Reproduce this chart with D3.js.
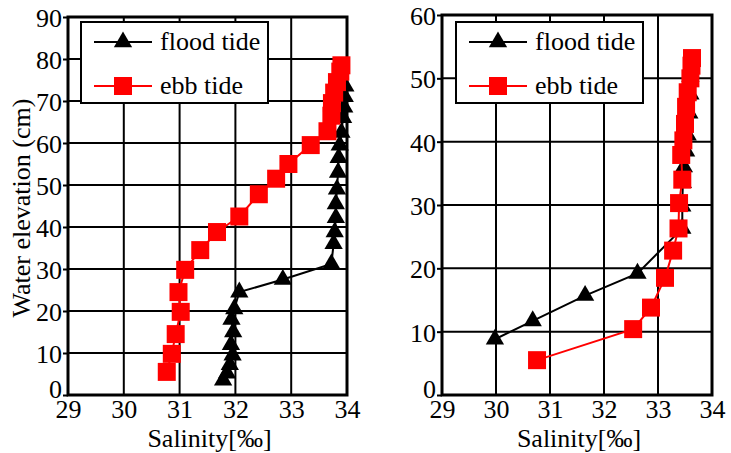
<!DOCTYPE html>
<html>
<head>
<meta charset="utf-8">
<script src="https://cdn.jsdelivr.net/npm/d3@7"></script>
<style>
	body { margin: 0; background: #fff; }
	svg { display: block; }
</style>
</head>
<body>
<svg id="chart" width="731" height="453"></svg>
<script>
const FONT = '"Liberation Serif", "Times New Roman", Times, serif'
const FS = 26

// salinity ticks shared by both panels
const salinityTicks = [29, 30, 31, 32, 33, 34]
const leftElevTicks = [0, 10, 20, 30, 40, 50, 60, 70, 80, 90]
const rightElevTicks = [0, 10, 20, 30, 40, 50, 60]
const seriesNames = ['flood tide', 'ebb tide']

// left panel: [salinity, elevation]
const leftFlood = [
	[31.78, 3.5], [31.85, 5.2], [31.9, 7.2], [31.95, 9.5], [31.92, 12], [31.96, 15],
	[31.93, 18], [31.98, 20.5], [32.07, 24.5], [32.85, 27.5], [33.72, 31.2],
	[33.76, 36], [33.78, 38.8], [33.8, 42.2], [33.8, 45.5], [33.82, 49], [33.84, 53],
	[33.85, 56.5], [33.87, 59.5], [33.9, 62.5], [33.93, 66], [33.95, 68.5],
	[33.96, 71], [33.97, 73.5]
]
const leftEbb = [
	[30.77, 5.5], [30.86, 9.8], [30.93, 14.5], [31.02, 19.8], [30.98, 24.5], [31.1, 29.8],
	[31.37, 34.5], [31.67, 38.8], [32.07, 42.5], [32.42, 47.8], [32.73, 51.5],
	[32.95, 55], [33.35, 59.5], [33.65, 62.8], [33.72, 66.5], [33.73, 69.5],
	[33.77, 72], [33.82, 74.5], [33.88, 77], [33.9, 78.5]
]

// right panel
const rightFlood = [
	[29.98, 8.8], [30.68, 11.7], [31.65, 15.7], [32.62, 19.2], [33.45, 26.3],
	[33.45, 29.8], [33.46, 33.5], [33.48, 36], [33.52, 38.5], [33.55, 41],
	[33.58, 44.5], [33.6, 47.5], [33.6, 50.3]
]
const rightEbb = [
	[30.76, 5.5], [32.54, 10.4], [32.87, 13.8], [33.13, 18.5], [33.28, 22.8],
	[33.38, 26.3], [33.39, 30.3], [33.45, 34], [33.43, 37.9], [33.47, 40.2],
	[33.5, 42.8], [33.52, 45.5], [33.55, 47.8], [33.6, 50], [33.62, 52], [33.63, 53.2]
]

const svg = d3.select('#chart')
	.attr('font-family', FONT)

function drawPanel(cfg) {
	const x = d3.scaleLinear().domain([29, 34]).range(cfg.xRange)
	const y = d3.scaleLinear().domain([0, cfg.yMax]).range(cfg.yRange)
	const g = svg.append('g').attr('font-family', FONT)

	// grid
	g.selectAll('.vgrid')
		.data(salinityTicks.slice(1, -1))
		.enter().append('line')
		.attr('x1', d => x(d)).attr('x2', d => x(d))
		.attr('y1', y(0)).attr('y2', y(cfg.yMax))
		.attr('stroke', '#000').attr('stroke-width', 2)
	g.selectAll('.hgrid')
		.data(cfg.yTicks.slice(1, -1))
		.enter().append('line')
		.attr('x1', x(29)).attr('x2', x(34))
		.attr('y1', d => y(d)).attr('y2', d => y(d))
		.attr('stroke', '#000').attr('stroke-width', 2)

	// axes
	const yAxis = g.append('g')
		.attr('transform', `translate(${x(29)},0)`)
		.call(d3.axisLeft(y).tickValues(cfg.yTicks).tickFormat(d3.format('d')).tickSize(5).tickPadding(1))
		.attr('font-family', FONT)
		.attr('font-size', FS)
	yAxis.select('.domain').remove()
	yAxis.selectAll('.tick line').attr('stroke-width', 2)
	yAxis.selectAll('.tick text')
		.attr('fill', '#000')
		.attr('dy', d => d === 0 ? '0.1em' : '0.36em')

	const xAxis = g.append('g')
		.attr('transform', `translate(0,${y(0)})`)
		.call(d3.axisBottom(x).tickValues(salinityTicks).tickFormat(d3.format('d')).tickSize(0).tickPadding(5))
		.attr('font-family', FONT)
		.attr('font-size', FS)
	xAxis.select('.domain').remove()
	xAxis.selectAll('.tick text').attr('fill', '#000')

	// frame
	g.append('rect')
		.attr('x', x(29)).attr('y', y(cfg.yMax))
		.attr('width', x(34) - x(29)).attr('height', y(0) - y(cfg.yMax))
		.attr('fill', 'none').attr('stroke', '#000').attr('stroke-width', 3)

	const line = d3.line().x(d => x(d[0])).y(d => y(d[1]))
	const tri = d3.symbol().type(d3.symbolTriangle).size(145)
	const sq = d3.symbol().type(d3.symbolSquare).size(324)

	g.append('path').datum(cfg.flood)
		.attr('d', line).attr('fill', 'none').attr('stroke', '#000').attr('stroke-width', 2)
	g.selectAll('.flood')
		.data(cfg.flood).enter().append('path')
		.attr('d', tri)
		.attr('transform', d => `translate(${x(d[0])},${y(d[1])})`)
		.attr('fill', '#000')

	g.append('path').datum(cfg.ebb)
		.attr('d', line).attr('fill', 'none').attr('stroke', '#ff0000').attr('stroke-width', 2)
	g.selectAll('.ebb')
		.data(cfg.ebb).enter().append('path')
		.attr('d', sq)
		.attr('transform', d => `translate(${x(d[0])},${y(d[1])})`)
		.attr('fill', '#ff0000')

	// legend
	const lg = g.append('g').attr('transform', `translate(${cfg.legend[0]},${cfg.legend[1]})`)
	lg.append('rect')
		.attr('width', 187).attr('height', 81)
		.attr('fill', '#fff').attr('stroke', '#000').attr('stroke-width', 2)
	seriesNames.forEach((name, i) => {
		const ly = 20 + i * 44
		lg.append('line')
			.attr('x1', 13).attr('x2', 71).attr('y1', ly).attr('y2', ly)
			.attr('stroke', i ? '#ff0000' : '#000').attr('stroke-width', 2)
		lg.append('path')
			.attr('d', i ? sq() : tri())
			.attr('transform', `translate(42,${ly})`)
			.attr('fill', i ? '#ff0000' : '#000')
		lg.append('text')
			.attr('x', 79).attr('y', ly + 8)
			.attr('font-size', FS)
			.text(name)
	})

	// x title
	g.append('text')
		.attr('x', (x(29) + x(34)) / 2 + 2).attr('y', 447)
		.attr('text-anchor', 'middle')
		.attr('font-size', FS)
		.text('Salinity[‰]')
}

drawPanel({
	xRange: [68, 347], yRange: [395, 17], yMax: 90, yTicks: leftElevTicks,
	flood: leftFlood, ebb: leftEbb, legend: [81, 22]
})
drawPanel({
	xRange: [442, 712], yRange: [395, 15], yMax: 60, yTicks: rightElevTicks,
	flood: rightFlood, ebb: rightEbb, legend: [456, 22]
})

svg.append('text')
	.attr('transform', 'translate(30,208) rotate(-90)')
	.attr('text-anchor', 'middle')
	.attr('font-size', FS)
	.text('Water elevation (cm)')
</script>
</body>
</html>
